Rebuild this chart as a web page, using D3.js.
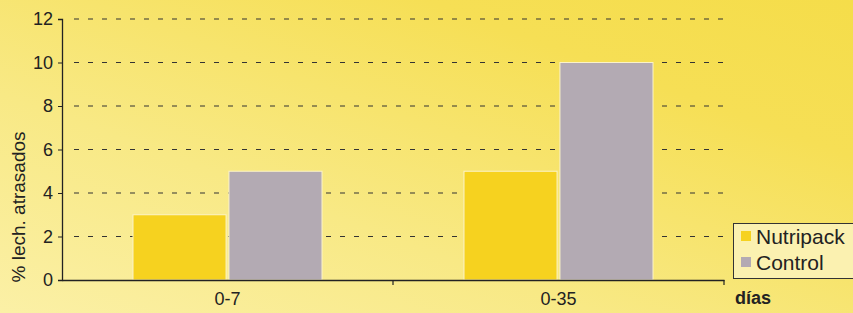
<!DOCTYPE html>
<html><head><meta charset="utf-8">
<script src="https://cdn.jsdelivr.net/npm/d3@7"></script>
<style>html,body{margin:0;padding:0;overflow:hidden;}svg{display:block;}</style>
</head><body>
<script>
const categories = ["0-7", "0-35"];
const seriesNames = ["Nutripack", "Control"];
const nutripack = [3, 5];
const control = [5, 10];
const yTicks = [0, 2, 4, 6, 8, 10, 12];
const yLabel = "% lech. atrasados";
const xLabel = "días";

const W = 853, H = 313;
const m = {left: 62, right: 129, top: 19, bottom: 33};
const FONT = "'Liberation Sans', Arial, sans-serif";
const svg = d3.select("body").append("svg").attr("width", W).attr("height", H)
  .style("font-family", FONT);

const defs = svg.append("defs");
const g1 = defs.append("linearGradient").attr("id","bg").attr("x1","0").attr("y1","1").attr("x2","1").attr("y2","0");
g1.append("stop").attr("offset","0").attr("stop-color","#fbf0a6");
g1.append("stop").attr("offset","0.35").attr("stop-color","#f8e985");
g1.append("stop").attr("offset","0.75").attr("stop-color","#f6df55");
g1.append("stop").attr("offset","1").attr("stop-color","#f5dd4a");
svg.append("rect").attr("width", W).attr("height", H).attr("fill","url(#bg)");

const x0 = d3.scaleBand().domain(categories).range([m.left, W - m.right]).paddingInner(0).paddingOuter(0);
const bw = x0.bandwidth();
const x1 = d3.scaleBand().domain(seriesNames).range([0.2145 * bw, 0.7855 * bw]).paddingInner(0.03).paddingOuter(0);
const y = d3.scaleLinear().domain([0, 12]).range([H - m.bottom, m.top]);

// gridlines
svg.append("g").selectAll("line").data(yTicks.filter(d => d > 0)).join("line")
  .attr("x1", m.left + 12).attr("x2", W - m.right)
  .attr("y1", d => y(d)).attr("y2", d => y(d))
  .attr("stroke", "#333").attr("stroke-width", 1.2).attr("stroke-dasharray", "5,9");

// bars
const colors = {"Nutripack": "#f6d21f", "Control": "#b3aab3"};
const rows = categories.map((c, i) => ({cat: c, vals: [{s: "Nutripack", v: nutripack[i]}, {s: "Control", v: control[i]}]}));
svg.append("g").selectAll("g").data(rows).join("g")
  .attr("transform", d => `translate(${x0(d.cat)},0)`)
  .selectAll("rect").data(d => d.vals).join("rect")
  .attr("x", d => x1(d.s)).attr("width", x1.bandwidth())
  .attr("y", d => y(d.v)).attr("height", d => y(0) - y(d.v))
  .attr("fill", d => colors[d.s]).attr("stroke", "#fbf3c8").attr("stroke-width", 1);

// y axis
const ya = svg.append("g").attr("transform", `translate(${m.left},0)`)
  .call(d3.axisLeft(y).tickValues(yTicks).tickSize(4).tickPadding(5));
ya.select(".domain").attr("stroke", "#222").attr("stroke-width", 1.3);
ya.selectAll(".tick line").attr("stroke", "#222");
ya.selectAll("text").attr("font-size", 18).attr("fill", "#222").attr("font-family", FONT);

// x axis
const xa = svg.append("g").attr("transform", `translate(0,${y(0)})`)
  .call(d3.axisBottom(x0).tickSize(0).tickPadding(12));
xa.select(".domain").attr("stroke", "#222").attr("stroke-width", 1.3);
xa.selectAll("text").attr("font-size", 18).attr("fill", "#222").attr("font-family", FONT);
const bounds = [x0.range()[0] + bw, x0.range()[1]];
xa.append("g").selectAll("line").data(bounds).join("line")
  .attr("x1", d => d).attr("x2", d => d).attr("y1", 0).attr("y2", 5)
  .attr("stroke", "#222").attr("stroke-width", 1.2);

// y label
svg.append("text").attr("transform", `translate(25,207) rotate(-90)`)
  .attr("text-anchor", "middle").attr("font-size", 19).attr("fill", "#222").text(yLabel);

// x label
svg.append("text").attr("x", 735).attr("y", 304).attr("font-size", 18).attr("font-weight", "bold")
  .attr("fill", "#222").text(xLabel);

// legend
const lg = svg.append("g");
lg.append("rect").attr("x", 733.5).attr("y", 223.5).attr("width", 130).attr("height", 55)
  .attr("fill", "#fbf1b0").attr("stroke", "#333").attr("stroke-width", 1);
seriesNames.forEach((s, i) => {
  lg.append("rect").attr("x", 741).attr("y", 231 + i * 26).attr("width", 10).attr("height", 10).attr("fill", colors[s]);
  lg.append("text").attr("x", 756).attr("y", 244 + i * 26).attr("font-size", 21).attr("fill", "#222").text(s);
});
</script>
</body></html>
